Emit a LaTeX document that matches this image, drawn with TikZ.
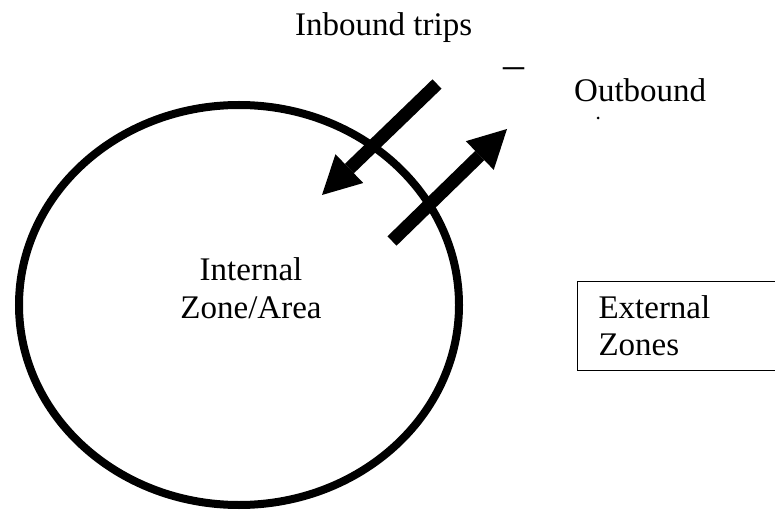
\documentclass[tikz,border=0pt]{standalone}
\usepackage{fontspec}
\setmainfont{Liberation Serif}
\usetikzlibrary{arrows.meta, positioning}

\begin{document}
\begin{tikzpicture}[
    x=1pt, y=-1pt,
    zone/.style = {draw=black, line width=8pt},
    zonetext/.style = {inner sep=0pt, align=center, font=\fontsize{33}{37.5}\selectfont},
    extbox/.style = {rectangle, draw=black, line width=1pt, anchor=north west, inner xsep=21pt, inner ysep=0pt, text width=190pt, minimum height=89pt, align=left, font=\fontsize{33}{37}\selectfont},
    trip/.style = {draw=black, line width=13pt, -{Triangle[length=38pt, width=40pt, line width=0pt]}}
]
\useasboundingbox (0,0) rectangle (775,510);
\clip (0,0) rectangle (775,510);

% Internal zone
\coordinate (zone_c) at (239,305);
\draw [zone] (zone_c) ellipse [x radius=220, y radius=200];
\node (internal) [zonetext, anchor=base] at (251,318) {Internal\\Zone/Area};

% External zones box (runs off the right edge)
\node (external) [extbox] at (577,281) {External\\Zones};

% Trip arrows
\coordinate (in_tail) at (437,84);
\coordinate (in_tip) at (322,195);
\coordinate (out_tail) at (392,241);
\coordinate (out_tip) at (507,129);
\draw [trip] (in_tail) -- (in_tip);
\draw [trip] (out_tail) -- (out_tip);

% Labels
\node (inbound) [zonetext, anchor=base west] at (295,36) {Inbound trips};
\node (dash) [inner sep=0pt, anchor=base, font=\fontsize{42}{42}\selectfont] at (514,79) {–};
\node (outbound) [zonetext, anchor=base west] at (574,102) {Outbound};
\node (stub) [circle, fill=black, inner sep=0pt, minimum size=3pt] at (598,118) {};

\end{tikzpicture}
\end{document}
